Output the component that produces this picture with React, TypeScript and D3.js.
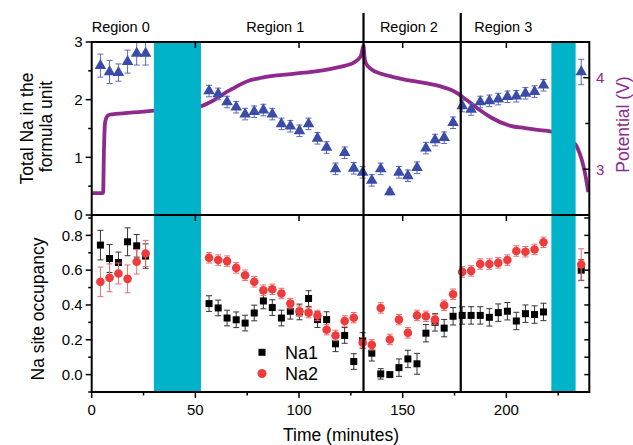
import React from 'react';
import * as d3 from 'd3';

// ---------- data ----------
const times = [4.2, 8.6, 12.9, 17.3, 21.7, 26.0,
  56.6, 61.0, 65.3, 69.7, 74.0, 78.4, 82.8, 87.1, 91.5, 95.8, 100.2, 104.6, 108.9, 113.3, 117.6, 122.0, 126.4, 130.7,
  135.1, 139.4, 143.8, 148.2, 152.5, 156.9, 161.2, 165.6, 170.0, 174.3,
  178.7, 183.0, 187.4, 191.8, 196.1, 200.5, 204.8, 209.2, 213.6, 217.9, 236.1];

const totalNa = [2.59, 2.48, 2.47, 2.66, 2.80, 2.80,
  2.15, 2.10, 1.96, 1.87, 1.75, 1.79, 1.82, 1.75, 1.58, 1.54, 1.46, 1.58, 1.33, 1.17, 0.80, 1.08, 0.81, 0.74,
  0.60, 0.80, 0.40, 0.74, 0.68, 0.82, 1.16, 1.30, 1.34, 1.60,
  1.89, 1.83, 1.96, 1.98, 2.01, 2.05, 2.06, 2.11, 2.14, 2.25, 2.48];
const totalErr = [0.2, 0.2, 0.15, 0.2, 0.2, 0.2,
  0.1, 0.1, 0.1, 0.1, 0.1, 0.1, 0.1, 0.1, 0.1, 0.1, 0.1, 0.1, 0.1, 0.1, 0.1, 0.1, 0.1, 0.1,
  0.1, 0.1, 0.05, 0.1, 0.1, 0.1, 0.1, 0.1, 0.1, 0.1,
  0.1, 0.1, 0.1, 0.1, 0.1, 0.1, 0.1, 0.1, 0.1, 0.1, 0.22];

const na1 = [0.744, 0.667, 0.644, 0.763, 0.740, 0.681,
  0.408, 0.383, 0.325, 0.315, 0.296, 0.354, 0.423, 0.385, 0.325, 0.364, 0.36, 0.437, 0.316, 0.316, 0.177, 0.225, 0.075, 0.196,
  0.123, 0.004, 0.0, 0.040, 0.090, 0.062, 0.238, 0.30, 0.267, 0.335,
  0.340, 0.340, 0.340, 0.329, 0.356, 0.364, 0.308, 0.350, 0.345, 0.360, 0.600];
const na1Err = [0.085, 0.08, 0.06, 0.08, 0.065, 0.07,
  0.045, 0.045, 0.045, 0.045, 0.045, 0.045, 0.045, 0.045, 0.045, 0.045, 0.045, 0.045, 0.045, 0.045, 0.045, 0.045, 0.045, 0.045,
  0.045, 0.03, 0.01, 0.05, 0.05, 0.06, 0.05, 0.05, 0.05, 0.05,
  0.05, 0.05, 0.05, 0.05, 0.05, 0.05, 0.05, 0.05, 0.05, 0.05, 0.06];

const na2 = [0.533, 0.556, 0.581, 0.550, 0.648, 0.696,
  0.671, 0.658, 0.652, 0.613, 0.571, 0.533, 0.485, 0.490, 0.466, 0.408, 0.364, 0.356, 0.340, 0.258, 0.225, 0.308, 0.327, 0.183,
  0.171, 0.383, 0.202, 0.316, 0.240, 0.340, 0.335, 0.316, 0.398, 0.462,
  0.590, 0.596, 0.635, 0.635, 0.642, 0.658, 0.710, 0.706, 0.719, 0.760, 0.633];
const na2Err = [0.085, 0.08, 0.06, 0.08, 0.07, 0.075,
  0.03, 0.03, 0.03, 0.03, 0.03, 0.03, 0.03, 0.03, 0.03, 0.03, 0.03, 0.03, 0.03, 0.03, 0.03, 0.03, 0.03, 0.03,
  0.03, 0.03, 0.03, 0.03, 0.03, 0.03, 0.03, 0.03, 0.03, 0.03,
  0.03, 0.03, 0.03, 0.03, 0.03, 0.03, 0.03, 0.03, 0.03, 0.03, 0.09];

const potTime = [0, 5.5, 5.9, 6.4, 7.0, 8.0, 10, 15, 20, 25, 30, 35, 40, 45, 52.7, 56, 60, 64, 68, 72, 76, 80, 84, 92, 100,
  108, 116, 122, 126, 128.5, 130, 130.6, 131.1, 131.5, 132.2, 135, 140, 145, 151, 161, 169, 174, 177, 180, 183, 187,
  193, 201, 209, 215, 221.7, 233.4, 234.5, 236.4, 238, 239.5];
const potV = [2.74, 2.74, 3.2, 3.5, 3.56, 3.59, 3.60, 3.61, 3.62, 3.63, 3.64, 3.65, 3.66, 3.67, 3.69, 3.72, 3.77, 3.83, 3.88,
  3.93, 3.97, 3.99, 4.01, 4.03, 4.05, 4.07, 4.10, 4.13, 4.16, 4.20, 4.25, 4.31, 4.35, 4.24, 4.16, 4.09, 4.04, 4.01, 3.98,
  3.94, 3.90, 3.86, 3.82, 3.77, 3.72, 3.65, 3.56, 3.48, 3.45, 3.43, 3.41, 3.27, 3.22, 3.10, 2.95, 2.75];

const bands = [[30.0, 52.7], [221.7, 233.4]];
const regionLines = [131.1, 178.0];
const regionLabels = ['Region 0', 'Region 1', 'Region 2', 'Region 3'];
const regionLabelTimes = [14, 88.5, 153, 198.5];

const xMajor = [0, 50, 100, 150, 200];
const xMinor = [25, 75, 125, 175, 225];
const topMajor = [0, 1, 2, 3];
const topMinor = [0.5, 1.5, 2.5];
const potMajor = [3, 4];
const potMinor = [3.5];
const botMajor = [0.0, 0.2, 0.4, 0.6, 0.8];
const botMinor = [-0.1, 0.1, 0.3, 0.5, 0.7, 0.9];

const BLUE = '#3a4ca8';
const BLUE_ERR = '#5a6bc0';
const RED = '#ee3b3b';
const RED_ERR = '#f06a6a';
const PURPLE = '#8e2a8e';
const CYAN = '#00b3c9';

export default function App() {
  const L = 91.7, R = 589.3, T = 42, M = 215, B = 392;
  const x = d3.scaleLinear().domain([0, 240]).range([L, R]);
  const yTop = d3.scaleLinear().domain([0, 3]).range([M, T]);
  const yPot = d3.scaleLinear().domain([2.5, 4.39]).range([M, T]);
  const yBot = d3.scaleLinear().domain([-0.1, 0.917]).range([B, M]);

  const potLine = d3.line<number>()
    .x((_, i) => x(potTime[i]))
    .y((d) => yPot(d))
    .curve(d3.curveMonotoneX);

  const tri = d3.symbol().type(d3.symbolTriangle).size(58)()!;
  const sq = d3.symbol().type(d3.symbolSquare).size(49)()!;
  const fmt1 = d3.format('.1f');

  const errBar = (cx: number, y1: number, y2: number, color: string, key: string) => (
    <g key={key} stroke={color} strokeWidth={1}>
      <line x1={cx} x2={cx} y1={y1} y2={y2} />
      <line x1={cx - 3} x2={cx + 3} y1={y1} y2={y1} />
      <line x1={cx - 3} x2={cx + 3} y1={y2} y2={y2} />
    </g>
  );

  return (
    <svg width={633} height={445} style={{ position: 'absolute', left: 0, top: 0, background: '#fff' }}
      fontFamily="'Liberation Sans', Arial, sans-serif">
      <defs>
        <clipPath id="topClip"><rect x={L} y={T} width={R - L} height={M - T} /></clipPath>
      </defs>

      {/* potential curve */}
      <path d={potLine(potV)!} fill="none" stroke={PURPLE} strokeWidth={3.8} clipPath="url(#topClip)" />

      {/* bands */}
      {bands.map((b, i) => (
        <rect key={'b' + i} x={x(b[0])} y={T} width={x(b[1]) - x(b[0])} height={B - T} fill={CYAN} />
      ))}

      {/* total Na triangles */}
      {times.map((t, i) => errBar(x(t), yTop(totalNa[i] - totalErr[i]), yTop(totalNa[i] + totalErr[i]), BLUE_ERR, 'te' + i))}
      {times.map((t, i) => (
        <path key={'tp' + i} d={tri} transform={`translate(${x(t)},${yTop(totalNa[i])})`} fill={BLUE} />
      ))}

      {/* Na1 squares */}
      {times.map((t, i) => errBar(x(t), yBot(na1[i] - na1Err[i]), yBot(na1[i] + na1Err[i]), '#333', 'ae' + i))}
      {times.map((t, i) => (
        <path key={'ap' + i} d={sq} transform={`translate(${x(t)},${yBot(na1[i])})`} fill="#000" />
      ))}
      {/* Na2 circles */}
      {times.map((t, i) => errBar(x(t), yBot(na2[i] - na2Err[i]), yBot(na2[i] + na2Err[i]), RED_ERR, 'be' + i))}
      {times.map((t, i) => (
        <circle key={'bp' + i} cx={x(t)} cy={yBot(na2[i])} r={4.3} fill={RED} />
      ))}

      {/* region lines */}
      {regionLines.map((t, i) => (
        <line key={'rl' + i} x1={x(t)} x2={x(t)} y1={13} y2={B} stroke="#000" strokeWidth={2.2} />
      ))}
      {regionLabels.map((s, i) => (
        <text key={'rt' + i} x={x(regionLabelTimes[i])} y={32} fontSize={14.5} textAnchor="middle">{s}</text>
      ))}

      {/* frames */}
      <rect x={L} y={T} width={R - L} height={B - T} fill="none" stroke="#000" strokeWidth={2} />
      <line x1={L} x2={R} y1={M} y2={M} stroke="#000" strokeWidth={2} />

      <g stroke="#000" strokeWidth={1.5}>
        {xMajor.slice(1).map((v) => <line key={'tt' + v} x1={x(v)} x2={x(v)} y1={T} y2={T + 6} />)}
        {xMajor.slice(1).map((v) => <line key={'mt' + v} x1={x(v)} x2={x(v)} y1={M} y2={M + 6} />)}
        {xMajor.map((v) => <line key={'bt' + v} x1={x(v)} x2={x(v)} y1={B} y2={B + 6} />)}
        {xMinor.map((v) => <line key={'bm' + v} x1={x(v)} x2={x(v)} y1={B} y2={B + 3.5} />)}
        {topMajor.map((v) => <line key={'lt' + v} x1={L - 6} x2={L} y1={yTop(v)} y2={yTop(v)} />)}
        {topMinor.map((v) => <line key={'lm' + v} x1={L - 3.5} x2={L} y1={yTop(v)} y2={yTop(v)} />)}
        {potMajor.map((v) => <line key={'rt' + v} x1={R - 6} x2={R} y1={yPot(v)} y2={yPot(v)} />)}
        {potMinor.map((v) => <line key={'rm' + v} x1={R - 4} x2={R} y1={yPot(v)} y2={yPot(v)} />)}
        {botMajor.map((v) => <line key={'lb' + v} x1={L - 6} x2={L} y1={yBot(v)} y2={yBot(v)} />)}
        {botMinor.map((v) => <line key={'lbm' + v} x1={L - 3.5} x2={L} y1={yBot(v)} y2={yBot(v)} />)}
        {botMajor.concat(botMinor).map((v) => <line key={'rb' + v} x1={R - 5} x2={R} y1={yBot(v)} y2={yBot(v)} />)}
      </g>

      {/* tick labels */}
      <g fontSize={15}>
        {topMajor.map((v) => <text key={'tl' + v} x={L - 9} y={yTop(v) + 5.3} textAnchor="end">{v}</text>)}
        {botMajor.map((v) => <text key={'bl' + v} x={L - 9} y={yBot(v) + 5.3} textAnchor="end">{fmt1(v)}</text>)}
        {xMajor.map((v) => <text key={'xl' + v} x={x(v)} y={415} textAnchor="middle">{v}</text>)}
        {potMajor.map((v) => <text key={'pl' + v} x={596} y={yPot(v) + 5.3} fill={PURPLE}>{v}</text>)}
      </g>

      {/* axis titles */}
      <g fontSize={17.5}>
        <text transform="translate(33,128.5) rotate(-90)" textAnchor="middle">Total Na in the</text>
        <text transform="translate(52,126.5) rotate(-90)" textAnchor="middle">formula unit</text>
        <text transform="translate(43.5,309) rotate(-90)" textAnchor="middle">Na site occupancy</text>
        <text transform="translate(628.5,124.5) rotate(-90)" textAnchor="middle" fill={PURPLE}>Potential (V)</text>
        <text x={341} y={441} textAnchor="middle">Time (minutes)</text>
      </g>

      {/* legend */}
      <path d={sq} transform="translate(262,352.3)" fill="#000" />
      <text x={285} y={358.5} fontSize={18}>Na1</text>
      <circle cx={262} cy={373.5} r={4.5} fill={RED} />
      <text x={285} y={380} fontSize={18}>Na2</text>
    </svg>
  );
}
